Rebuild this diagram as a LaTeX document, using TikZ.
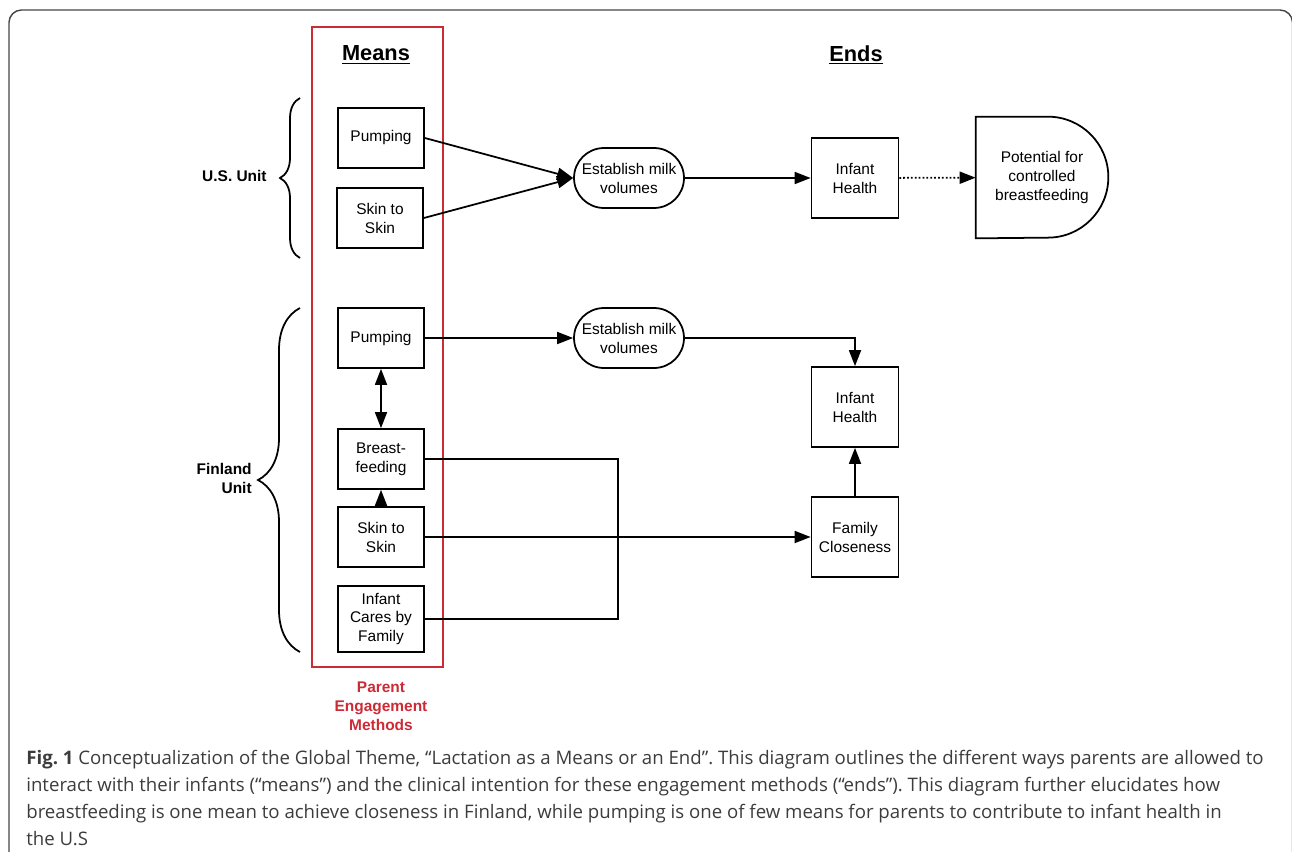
\documentclass[tikz,border=0pt]{standalone}
\usepackage{fontspec}
\setmainfont{Liberation Sans}
\newfontfamily\capfont{Open Sans}
\usetikzlibrary{arrows.meta, decorations.pathreplacing, positioning}
\definecolor{pemred}{RGB}{204,43,54}
\definecolor{framegray}{RGB}{70,70,70}
\definecolor{capgray}{RGB}{60,60,60}
\frenchspacing

\begin{document}
\begin{tikzpicture}[x=0.02cm, y=-0.02cm,
  box/.style={rectangle, draw, line width=1pt, minimum width=1.72cm, minimum height=1.2cm,
              align=center, inner sep=1pt, font=\fontsize{8.8}{10.8}\selectfont},
  endbox/.style={box, minimum width=1.74cm, minimum height=1.6cm},
  milk/.style={box, rounded corners=0.6cm, minimum width=2.2cm},
  arrow/.style={-{Triangle[length=0.32cm,width=0.24cm]}, line width=1pt},
  dblarrow/.style={{Triangle[length=0.32cm,width=0.24cm]}-{Triangle[length=0.32cm,width=0.24cm]}, line width=1pt},
  unitlbl/.style={font=\bfseries\fontsize{8.8}{10.8}\selectfont, align=right, inner sep=0pt},
  ubrace/.style={decorate, decoration={brace, amplitude=#1}, line width=1pt},
  title/.style={font=\bfseries\fontsize{12.4}{14}\selectfont}
]
\useasboundingbox (0,0) rectangle (1292,852);
\draw[framegray, line width=0.8pt, rounded corners=0.25cm] (9,860) -- (9,10) -- (1292.5,10) -- (1292.5,860);

\node[title] (means) at (376,55) {\underline{Means}};
\node[title] (ends)  at (856,55) {\underline{Ends}};
\draw[pemred, line width=1pt] (312,27) rectangle (443,667);
\node[font=\bfseries\fontsize{8.8}{10.8}\selectfont, text=pemred, align=center] (pem) at (381,706) {Parent\\Engagement\\Methods};

\node[unitlbl, anchor=east] (us) at (267,176) {U.S. Unit};
\draw[ubrace=0.4cm] (300,258) -- (300,98);
\node[unitlbl, anchor=east] (fin) at (252,478) {Finland\\Unit};
\draw[ubrace=0.84cm] (300,652) -- (300,308);

\node[box] (pump1) at (381,138) {Pumping};
\node[box] (skin1) at (380,218) {Skin to\\Skin};
\node[milk] (milk1) at (629,178) {Establish milk\\volumes};
\node[endbox] (health1) at (855,178) {Infant\\Health};
\node[minimum width=2.64cm, minimum height=2.42cm, align=center,
      font=\fontsize{8.8}{10.8}\selectfont] (pot) at (1042,177.5) {Potential for\\controlled\\breastfeeding};
\draw[line width=1pt] (pot.north west) -- ([xshift=-1.21cm]pot.north east)
  arc[start angle=90, end angle=-90, radius=1.21cm] -- (pot.south west) -- cycle;

\node[box] (pump2) at (381,338) {Pumping};
\node[box] (bf) at (381,459) {Breast-\\feeding};
\node[box] (skin2) at (381,537) {Skin to\\Skin};
\node[box, minimum height=1.32cm] (care) at (381,619) {Infant\\Cares by\\Family};
\node[milk] (milk2) at (629,338) {Establish milk\\volumes};
\node[endbox] (health2) at (855,407) {Infant\\Health};
\node[endbox] (close) at (855,537) {Family\\Closeness};
\coordinate (join) at (618,537);

\draw[arrow] (pump1.east) -- (milk1.west);
\draw[arrow] (skin1.east) -- (milk1.west);
\draw[arrow] (milk1) -- (health1);
\draw[arrow, dash pattern=on 1pt off 1.2pt] (health1) -- (pot);
\draw[arrow] (pump2) -- (milk2);
\draw[arrow] (milk2.east) -| (health2.north);
\draw[dblarrow] (pump2) -- (bf);
\draw[arrow] (skin2) -- (bf);
\draw[arrow] (skin2) -- (close);
\draw[arrow] (close) -- (health2);
\draw[line width=1pt] (bf.east) -| (join) |- (care.east);

\node[anchor=north west, align=left, inner sep=0pt, text=capgray,
      font=\capfont\fontsize{10.6}{15.4}\selectfont] (cap) at (26,750)
  {\textbf{Fig. 1} Conceptualization of the Global Theme, “Lactation as a Means or an End”. This diagram outlines the different ways parents are allowed to\\
   interact with their infants (“means”) and the clinical intention for these engagement methods (“ends”). This diagram further elucidates how\\
   breastfeeding is one mean to achieve closeness in Finland, while pumping is one of few means for parents to contribute to infant health in\\
   the U.S};
\end{tikzpicture}
\end{document}
